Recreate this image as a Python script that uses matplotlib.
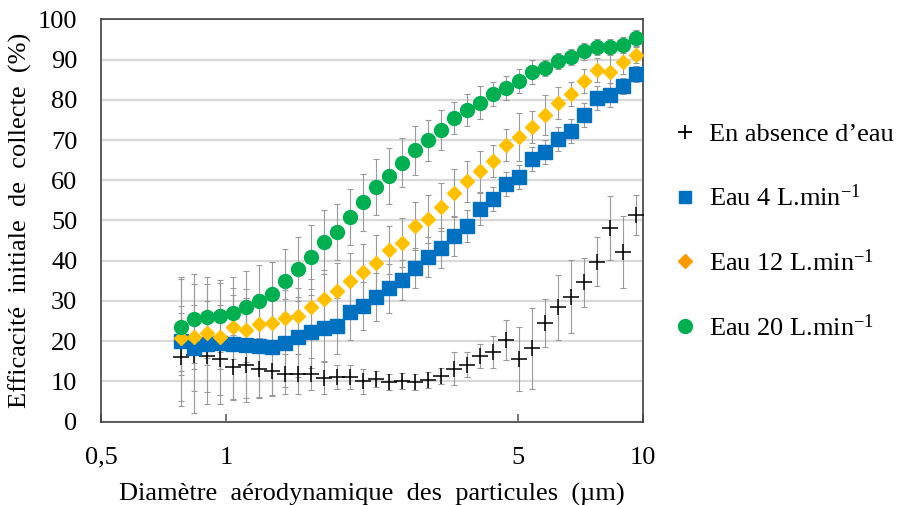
import matplotlib
matplotlib.use('Agg')
import matplotlib.pyplot as plt
from matplotlib.lines import Line2D

plt.rcParams['font.family'] = ['Liberation Serif', 'DejaVu Serif']
plt.rcParams['mathtext.default'] = 'regular'

# diamètres (canaux APS, µm)
diam = [0.777, 0.835, 0.898, 0.965, 1.037, 1.114, 1.197, 1.286, 1.382, 1.486,
        1.596, 1.715, 1.843, 1.981, 2.129, 2.288, 2.458, 2.642, 2.839, 3.051,
        3.278, 3.523, 3.786, 4.068, 4.371, 4.698, 5.048, 5.425, 5.829, 6.264,
        6.732, 7.234, 7.774, 8.354, 8.977, 9.647]

# efficacité (%)
sans_eau = [16.1, 16.5, 16.3, 15.7, 13.6, 14.0, 13.2, 12.6, 11.9, 11.9,
            11.8, 10.9, 11.0, 11.1, 10.0, 10.7, 9.9, 10.0, 9.9, 10.3,
            11.3, 13.2, 14.2, 16.3, 17.4, 20.3, 15.6, 18.2, 24.5, 28.4,
            31.1, 34.6, 39.8, 48.1, 42.1, 51.4]
eau4 = [20.0, 18.2, 19.3, 19.5, 19.3, 19.0, 18.8, 18.5, 19.5, 21.0,
        22.4, 23.2, 23.7, 27.3, 28.7, 30.9, 33.1, 35.2, 38.1, 41.0,
        43.1, 46.1, 48.6, 52.8, 55.3, 59.0, 60.9, 65.2, 67.1, 70.3,
        72.3, 76.2, 80.4, 81.2, 83.4, 86.4]
eau12 = [20.7, 21.0, 22.1, 21.0, 23.5, 22.8, 24.2, 24.5, 25.7, 26.2,
         28.4, 30.6, 32.5, 34.9, 37.1, 39.5, 42.7, 44.5, 48.6, 50.3,
         53.3, 56.8, 59.7, 62.2, 64.7, 68.8, 70.7, 73.2, 76.2, 79.1,
         81.4, 84.7, 87.4, 87.0, 89.3, 91.1]
eau20 = [23.5, 25.6, 25.9, 26.2, 27.0, 28.5, 29.9, 31.8, 34.9, 37.9,
         41.0, 44.6, 47.2, 50.8, 54.5, 58.3, 61.1, 64.4, 67.4, 69.9,
         72.4, 75.4, 77.5, 79.3, 81.4, 82.9, 84.7, 87.0, 87.8, 89.7,
         90.6, 92.0, 93.2, 93.2, 93.5, 95.3]

# écarts-types
err_sans = [11, 9, 9, 9, 8, 8, 7, 6, 5, 5, 4, 4, 3, 3, 3, 2, 2, 2, 2, 2,
            2, 4, 3, 3, 4, 5, 8, 10, 6, 8, 9, 6, 6, 8, 9, 5]
err4 = [16, 16, 15, 15, 14, 14, 13, 12, 11, 10, 9, 8, 7, 7, 6, 6, 6, 5, 5, 5,
        5, 5, 4, 4, 3, 3, 3, 3, 3, 3, 3, 3, 3, 3, 2, 2]
err12 = [8, 8, 8, 8, 8, 8, 7, 7, 7, 7, 7, 7, 7, 7, 7, 7, 6, 6, 6, 6,
         6, 6, 5, 5, 4, 4, 6, 4, 5, 4, 3, 3, 3, 5, 3, 2]
err20 = [12, 11, 10, 9, 9, 9, 9, 8, 8, 8, 8, 8, 7, 7, 7, 7, 7, 6, 6, 5,
         5, 4, 4, 4, 3, 3, 3, 3, 2, 2, 2, 2, 2, 2, 2, 2]

labels = ['En absence d\u2019eau', 'Eau 4 L.min$^{-1}$',
          'Eau 12 L.min$^{-1}$', 'Eau 20 L.min$^{-1}$']

fs = 19
fig = plt.figure(figsize=(9, 5.05), dpi=100)
ax = fig.add_axes([0.1122, 0.165, 0.6022, 0.7968])

ekw = dict(fmt='none', ecolor='#9a9a9a', elinewidth=0.8, capsize=2.5, capthick=0.8, zorder=2)
for y, e in [(sans_eau, err_sans), (eau4, err4), (eau12, err12), (eau20, err20)]:
    ax.errorbar(diam, y, yerr=e, **ekw)

ax.plot(diam, sans_eau, ls='none', marker='+', ms=11, mew=1.1, color='black', zorder=3)
ax.plot(diam, eau4, ls='none', marker='s', ms=10, color='#0070C0', zorder=4)
ax.plot(diam, eau12, ls='none', marker='D', ms=7.5, color='#FFC000', zorder=5)
ax.plot(diam, eau20, ls='none', marker='o', ms=10, color='#00B050', zorder=6)

ax.set_xscale('log')
ax.set_xlim(0.5, 10)
ax.set_ylim(0, 100)
ax.set_yticks(range(0, 101, 10))
ax.set_xticks([0.5, 1, 5, 10])
ax.set_xticklabels(['0,5', '1', '5', '10'])
ax.xaxis.set_minor_locator(matplotlib.ticker.NullLocator())
ax.tick_params(axis='x', direction='in', length=6, width=1.2, color='#595959',
               labelsize=fs, pad=18)
ax.tick_params(axis='y', length=0, labelsize=fs, pad=17)
ax.yaxis.grid(True, color='#d9d9d9', lw=1.6)
ax.set_axisbelow(True)
for s in ax.spines.values():
    s.set_color('#404040')
    s.set_linewidth(1.2)

ax.set_xlabel('Diamètre  aérodynamique  des  particules  (µm)', fontsize=fs, labelpad=10)
ax.set_ylabel('Efficacité  initiale  de  collecte  (%)', fontsize=fs, labelpad=4)

handles = [Line2D([], [], ls='none', marker='+', ms=10, mew=1.3, color='black'),
           Line2D([], [], ls='none', marker='s', ms=9, color='#0070C0'),
           Line2D([], [], ls='none', marker='D', ms=7, color='#FF9900'),
           Line2D([], [], ls='none', marker='o', ms=10, color='#00B050')]
fig.legend(handles, labels, loc='upper left', bbox_to_anchor=(0.72, 0.804),
           frameon=False, fontsize=fs, labelspacing=1.45, handlelength=1.0,
           handletextpad=0.4)

fig.savefig('out.png', dpi=100)
